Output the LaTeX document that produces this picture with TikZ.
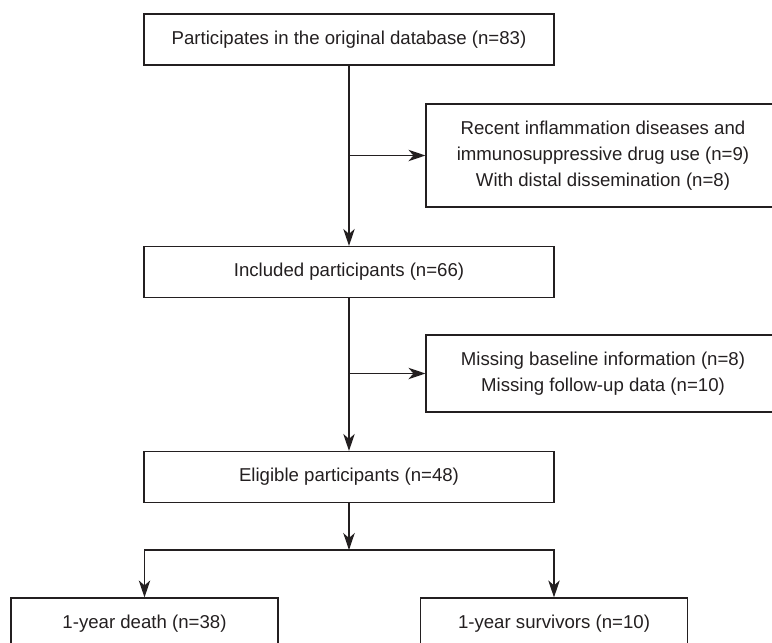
\documentclass[tikz,border=0pt]{standalone}
\usepackage{fontspec}
\setmainfont{Liberation Sans}
\usepackage{xcolor}
\usetikzlibrary{positioning,%
  arrows.meta%
}
\definecolor{linegray}{HTML}{231F20}

\begin{document}
\begin{tikzpicture}
                    [
                        x=0.02cm, y=-0.02cm,
                        color=linegray,
                        line width=0.7pt,
                        every node/.style={draw, align=center, inner sep=0pt,
                                           font=\fontsize{10.6}{14.7}\selectfont},
                        >={Stealth[length=3.4mm, width=2.3mm, inset=1mm]},
                        mainbox/.style={minimum width=8.2cm, minimum height=1.02cm},
                        sidebox/.style={minimum width=7.08cm},
                        endbox/.style={minimum width=5.34cm, minimum height=1.04cm}
                    ]

                    % Rahmen
                    \useasboundingbox (0,0) rectangle (772,643);
                    \clip (0,0) rectangle (772,643);

                    \node[mainbox] (database) at (349,39.5) {Participates in the original database (n=83)};
                    \node[sidebox, minimum height=2.06cm] (excluded1) at (603,155.5)
                        {Recent inflammation diseases and\\immunosuppressive drug use (n=9)\\With distal dissemination (n=8)};
                    \node[mainbox] (included) at (349,272) {Included participants (n=66)};
                    \node[sidebox, minimum height=1.54cm] (excluded2) at (603,373.5)
                        {Missing baseline information (n=8)\\Missing follow-up data (n=10)};
                    \node[mainbox] (eligible) at (349,477) {Eligible participants (n=48)};
                    \node[endbox] (death) at (144.5,624) {1-year death (n=38)};
                    \node[endbox] (survivors) at (554,624) {1-year survivors (n=10)};

                    \coordinate (split) at (349,550);

                    \draw[->] (database) -- (included);
                    \draw[->] (database.south |- excluded1.west) -- (excluded1.west);
                    \draw[->] (included) -- (eligible);
                    \draw[->] (included.south |- excluded2.west) -- (excluded2.west);
                    \draw[->] (eligible) -- (split);
                    \draw[->] (split) -| (death.north);
                    \draw[->] (split) -| (survivors.north);
                \end{tikzpicture}
\end{document}
